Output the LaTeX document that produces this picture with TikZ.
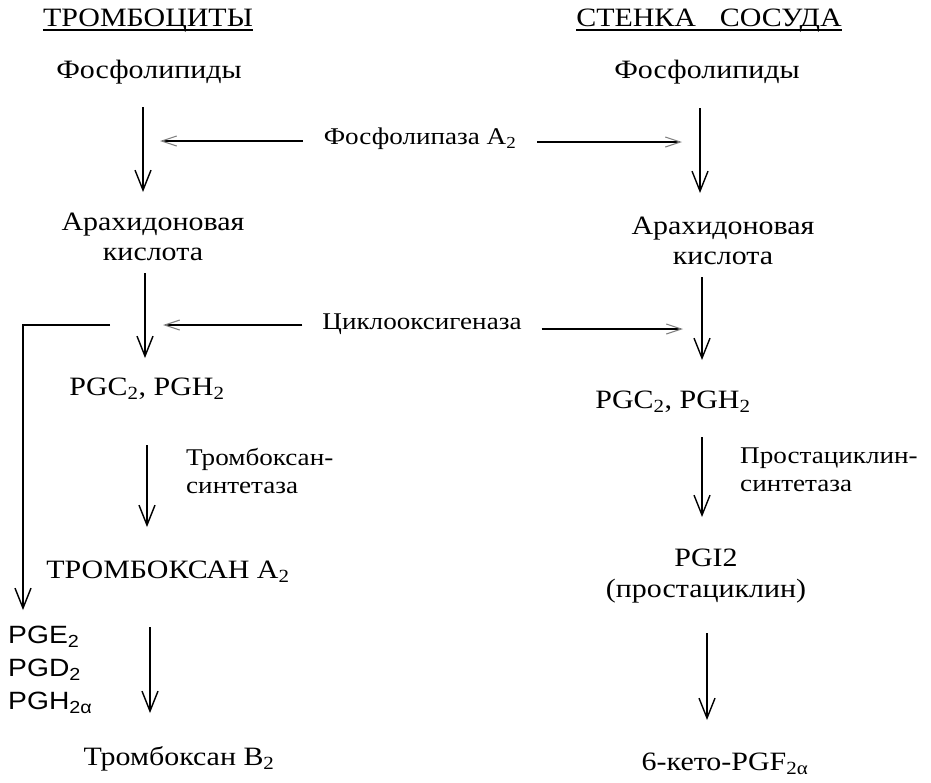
\documentclass[tikz,border=0pt]{standalone}
\usepackage{fontspec}
\setmainfont[FakeStretch=1.13]{Liberation Serif}
\newfontfamily\arialf[FakeStretch=1.13]{Liberation Sans}
\usetikzlibrary{arrows.meta}
\begin{document}
\begin{tikzpicture}[x=1pt,y=-1pt,
 lbl/.style={inner sep=0pt, font=\fontsize{26.5}{30.5}\selectfont, align=center},
 enz/.style={inner sep=0pt, font=\fontsize{24}{28}\selectfont, align=left},
 enzb/.style={inner sep=0pt, font=\fontsize{24}{28}\selectfont},
 hd/.style={inner sep=0pt, font=\fontsize{26.5}{30}\selectfont},
 sansl/.style={inner sep=0pt, font=\arialf\fontsize{25}{33}\selectfont, align=left},
 varr/.style={line width=1.4pt, -{Straight Barb[length=20pt,width=16pt,line width=1.4pt]}},
 harr/.style={line width=1.4pt, -{Straight Barb[length=15pt,width=10pt,line width=1.1pt,color=gray]}},
 uline/.style={line width=1.1pt},
]
\useasboundingbox (0,0) rectangle (931,782);
% headings
\node[hd] (hL) at (148,21) {ТРОМБОЦИТЫ};
\node[hd] (hR) at (709,21) {СТЕНКА\hspace{0.9em}СОСУДА};
\draw[uline] ([yshift=-3pt]hL.base west) -- ([yshift=-3pt]hL.base east);
\draw[uline] ([yshift=-3pt]hR.base west) -- ([yshift=-3pt]hR.base east);
% left column
\node[lbl] (fosL) at (149,72) {Фосфолипиды};
\node[lbl] (arL) at (153,237) {Арахидоновая\\кислота};
\node[lbl] (pgcL) at (147,389) {PGC\textsubscript{2}, PGH\textsubscript{2}};
\node[enz, anchor=west] (tsyn) at (186,471) {Тромбоксан-\\синтетаза};
\node[lbl] (txa) at (168,572) {ТРОМБОКСАН A\textsubscript{2}};
\node[sansl, anchor=west] (pge) at (8,670) {PGE\textsubscript{2}\\PGD\textsubscript{2}\\PGH\textsubscript{2α}};
\node[lbl] (txb) at (179,759) {Тромбоксан B\textsubscript{2}};
% enzymes in the middle
\node[enzb] (pla) at (420,139) {Фосфолипаза A\textsubscript{2}};
\node[enzb] (cox) at (422,324) {Циклооксигеназа};
% right column
\node[lbl] (fosR) at (707,72) {Фосфолипиды};
\node[lbl] (arR) at (723,241) {Арахидоновая\\кислота};
\node[lbl] (pgcR) at (673,402) {PGC\textsubscript{2}, PGH\textsubscript{2}};
\node[enz, anchor=west] (psyn) at (740,470) {Простациклин-\\синтетаза};
\node[lbl] (pgi) at (706,576) {PGI2\\(простациклин)};
\node[lbl] (keto) at (725,764) {6-кето-PGF\textsubscript{2α}};
% arrow coordinates
\coordinate (a1s) at (143,107); \coordinate (a1e) at (143,192);
\coordinate (a2s) at (145,273); \coordinate (a2e) at (145,358);
\coordinate (a3s) at (147,445); \coordinate (a3e) at (147,527);
\coordinate (a4s) at (150,627); \coordinate (a4e) at (150,713);
\coordinate (b1s) at (700,108); \coordinate (b1e) at (700,193);
\coordinate (b2s) at (702,277); \coordinate (b2e) at (702,360);
\coordinate (b3s) at (702,437); \coordinate (b3e) at (702,517);
\coordinate (b4s) at (707,633); \coordinate (b4e) at (707,720);
\coordinate (br1) at (110,325); \coordinate (br2) at (23,325); \coordinate (br3) at (23,610);
% vertical arrows
\draw[varr] (a1s) -- (a1e);
\draw[varr] (a2s) -- (a2e);
\draw[varr] (a3s) -- (a3e);
\draw[varr] (a4s) -- (a4e);
\draw[varr] (b1s) -- (b1e);
\draw[varr] (b2s) -- (b2e);
\draw[varr] (b3s) -- (b3e);
\draw[varr] (b4s) -- (b4e);
% horizontal enzyme arrows
\draw[harr, shorten <=21pt, shorten >=17pt] ([yshift=-2pt]pla.west) -- ([yshift=-2pt]pla.west -| a1s);
\draw[harr, shorten <=21pt, shorten >=18pt] ([yshift=-3pt]pla.east) -- ([yshift=-3pt]pla.east -| b1s);
\draw[harr, shorten <=20pt, shorten >=18pt] ([yshift=-1pt]cox.west) -- ([yshift=-1pt]cox.west -| a2s);
\draw[harr, shorten <=20pt, shorten >=19pt] ([yshift=-5pt]cox.east) -- ([yshift=-5pt]cox.east -| b2s);
% branch to other prostaglandins
\draw[varr] (br1) -- (br2) -- (br3);
\end{tikzpicture}
\end{document}
